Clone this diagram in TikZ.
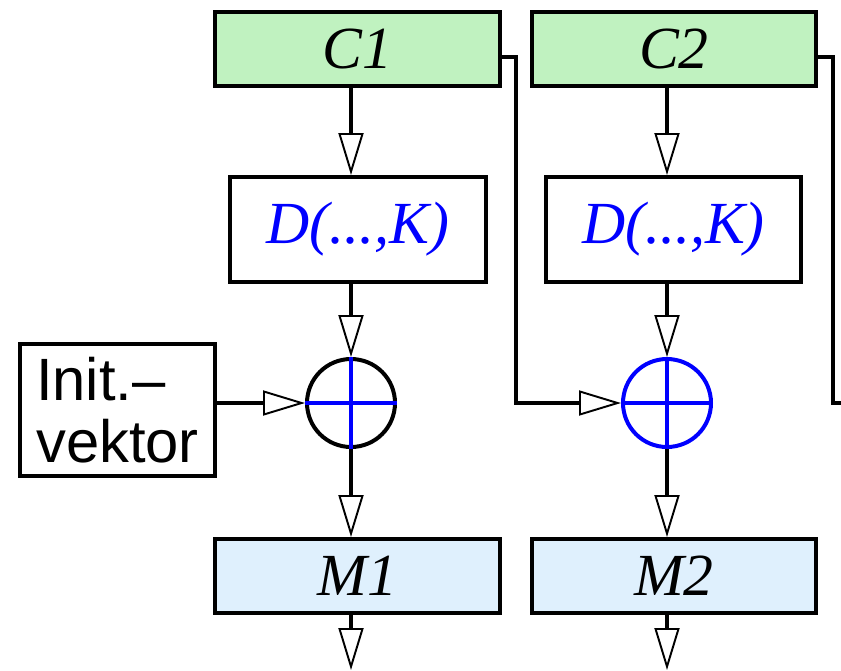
\documentclass[tikz,border=0pt]{standalone}
\usepackage{fontspec}
\setmainfont{Liberation Serif}
\setsansfont{Liberation Sans}
\usetikzlibrary{arrows.meta}

\definecolor{cgreen}{RGB}{192,242,192}
\definecolor{mblue}{RGB}{223,240,253}

\begin{document}
\begin{tikzpicture}[x=0.02cm,y=-0.02cm,
  box/.style={draw, line width=0.08cm, inner sep=0pt, font=\fontsize{34}{35}\selectfont\itshape},
  cbox/.style={box, fill=cgreen, minimum width=5.7cm, minimum height=1.48cm},
  dbox/.style={box, text=blue, minimum width=5.12cm, minimum height=2.1cm},
  mbox/.style={box, fill=mblue, minimum width=5.7cm, minimum height=1.48cm},
  xor/.style={circle, draw, line width=0.08cm, minimum size=1.76cm, inner sep=0pt},
  wire/.style={line width=0.08cm},
  flow/.style={wire, -{Triangle[open, length=0.84cm, width=0.5cm, line width=1.1pt]}}]
\useasboundingbox (0,0) rectangle (841,670);

% Шифротексты
\node[cbox] (C1) at (357.5,49) {C1};
\node[cbox] (C2) at (674,49) {C2};

% Расшифрование
\node[dbox] (D1) at (358,229.5) {D(...,K)};
\node[dbox] (D2) at (673.5,229.5) {D(...,K)};

% Сложение по модулю 2
\node[xor] (X1) at (351,403) {};
\node[xor, blue] (X2) at (667,403) {};
\draw[wire, blue] (X1.north) -- (X1.south) (X1.west) -- (X1.east);
\draw[wire, blue] (X2.north) -- (X2.south) (X2.west) -- (X2.east);

% Открытые тексты
\node[mbox] (M1) at (357.5,576) {M1};
\node[mbox] (M2) at (674,576) {M2};

% Вектор инициализации
\node[box, font=\fontsize{34}{35}\selectfont\sffamily, align=left,
  minimum width=3.9cm, minimum height=2.64cm] (IV) at (117.5,410) {Init.–\\vektor};

% Точки изгиба и выходы
\coordinate (bend1) at (516,403);
\coordinate (bend2) at (833,403);
\coordinate (edge2) at (841,403);
\coordinate (out1) at (351,670);
\coordinate (out2) at (667,670);

% Стрелки первого столбца
\draw[flow] (X1 |- C1.south) -- (X1 |- D1.north);
\draw[flow] (X1 |- D1.south) -- (X1.north);
\draw[flow] (IV.east |- X1) -- (X1.west);
\draw[flow] (X1.south) -- (X1 |- M1.north);
\draw[flow] (X1 |- M1.south) -- (out1);

% Стрелки второго столбца
\draw[flow] (X2 |- C2.south) -- (X2 |- D2.north);
\draw[flow] (X2 |- D2.south) -- (X2.north);
\draw[flow] ([yshift=-1.6mm]C1.east) -| (bend1) -- (X2.west);
\draw[flow] (X2.south) -- (X2 |- M2.north);
\draw[flow] (X2 |- M2.south) -- (out2);
\draw[wire] ([yshift=-1.6mm]C2.east) -| (bend2) -- (edge2);

\end{tikzpicture}
\end{document}
